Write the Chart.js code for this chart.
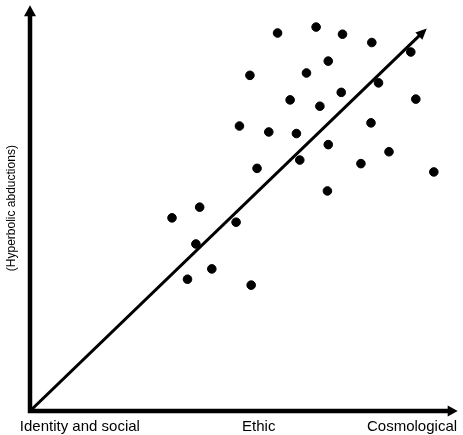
<!DOCTYPE html>
<html>
<head>
<meta charset="utf-8">
<script src="https://cdn.jsdelivr.net/npm/chart.js@4.4.0/dist/chart.umd.min.js"></script>
<style>
  html, body { margin: 0; padding: 0; background: #fff; }
  #wrap { width: 463px; height: 435px; }
</style>
</head>
<body>
<div id="wrap"><canvas id="chart"></canvas></div>
<script>
// scatter points (x = type of abduction, y = hyperbolic abductions), arbitrary 0-100 units
const pointX = [59.1, 68.3, 74.6, 81.6, 90.9, 52.5, 66.0, 71.2, 83.2, 62.1, 69.2, 74.3, 92.1, 50.0, 57.0, 63.6,
                81.4, 71.2, 85.7, 54.2, 64.4, 79.0, 96.4, 71.0, 33.9, 40.5, 49.2, 39.6, 43.4, 37.6, 52.8];
const pointY = [95.5, 97.0, 95.2, 93.1, 90.7, 84.8, 85.4, 88.4, 82.9, 78.6, 77.0, 80.5, 78.8, 72.0, 70.5, 70.1,
                72.8, 67.3, 65.5, 61.3, 63.4, 62.5, 60.4, 55.6, 48.8, 51.5, 47.7, 42.2, 35.9, 33.3, 31.8];

// trend arrow (start, base of the arrow head)
const trendX = [0, 93.0];
const trendY = [0, 94.9];

// x axis labels and where they sit
const xTickLabels = ['Identity and social', 'Ethic', 'Cosmological'];
const xTickValues = [11.9, 54.6, 91.2];

const yTitle = '(Hyperbolic abductions)';

const xMax = 102.1;
const yMax = 102.5;

function arrowHead(ctx, tx, ty, angle, len, half){
    ctx.save();
    ctx.translate(tx, ty);
    ctx.rotate(angle);
    ctx.beginPath();
    ctx.moveTo(0, 0);
    ctx.lineTo(-len, -half);
    ctx.lineTo(-len, half);
    ctx.closePath();
    ctx.fillStyle = '#000';
    ctx.fill();
    ctx.restore();
}

const arrowsPlugin = {
    id: 'arrows',
    beforeDatasetsDraw(chart){
        const ctx = chart.ctx;
        const x = chart.scales.x;
        const y = chart.scales.y;
        const x0 = x.getPixelForValue(0);
        const y0 = y.getPixelForValue(0);
        const xEnd = x.getPixelForValue(xMax);
        const yEnd = y.getPixelForValue(yMax);
        ctx.save();
        ctx.strokeStyle = '#000';
        ctx.lineWidth = 4.5;
        ctx.beginPath();
        ctx.moveTo(x0, y0 + 2.25);
        ctx.lineTo(x0, yEnd + 9);
        ctx.moveTo(x0 - 2.25, y0);
        ctx.lineTo(xEnd - 9, y0);
        ctx.stroke();
        ctx.restore();
        arrowHead(ctx, x0, yEnd, -Math.PI / 2, 11, 6);
        arrowHead(ctx, xEnd, y0, 0, 10, 5.5);
    },
    afterDatasetsDraw(chart){
        const ctx = chart.ctx;
        const x = chart.scales.x;
        const y = chart.scales.y;
        const ax = x.getPixelForValue(trendX[0]);
        const ay = y.getPixelForValue(trendY[0]);
        const bx = x.getPixelForValue(trendX[1]);
        const by = y.getPixelForValue(trendY[1]);
        const ang = Math.atan2(by - ay, bx - ax);
        const len = 10;
        arrowHead(ctx, bx + Math.cos(ang) * len, by + Math.sin(ang) * len, ang, len + 1, 5);
    }
};

const points = pointX.map((v, i) => ({x: v, y: pointY[i]}));
const trend = trendX.map((v, i) => ({x: v, y: trendY[i]}));

new Chart(document.getElementById('chart'), {
    type: 'scatter',
    data: {
        datasets: [
            {
                label: 'abductions',
                data: points,
                backgroundColor: '#000',
                borderColor: '#000',
                pointRadius: 4.3,
                pointHoverRadius: 4.3
            },
            {
                label: 'trend',
                type: 'line',
                data: trend,
                borderColor: '#000',
                borderWidth: 3,
                pointRadius: 0,
                fill: false
            }
        ]
    },
    options: {
        responsive: true,
        maintainAspectRatio: false,
        animation: false,
        layout: { padding: { top: 5, right: 4, left: 0, bottom: 0 } },
        plugins: {
            legend: { display: false },
            tooltip: { enabled: false }
        },
        scales: {
            x: {
                type: 'linear',
                min: 0,
                max: xMax,
                grid: { display: false },
                border: { display: false },
                afterBuildTicks: (scale) => {
                    scale.ticks = xTickValues.map(v => ({value: v}));
                },
                afterFit: (scale) => { scale.height = 24; },
                ticks: {
                    autoSkip: false,
                    maxRotation: 0,
                    padding: -1,
                    color: '#000',
                    font: { family: 'Liberation Sans, Arial, sans-serif', size: 15 },
                    callback: (value, index) => xTickLabels[index]
                }
            },
            y: {
                type: 'linear',
                min: 0,
                max: yMax,
                grid: { display: false },
                border: { display: false },
                afterFit: (scale) => { scale.width = 30; },
                ticks: { display: false },
                title: {
                    display: true,
                    text: yTitle,
                    color: '#000',
                    padding: { top: 4, bottom: 0 },
                    font: { family: 'Liberation Sans, Arial, sans-serif', size: 12 }
                }
            }
        }
    },
    plugins: [arrowsPlugin]
});
</script>
</body>
</html>
